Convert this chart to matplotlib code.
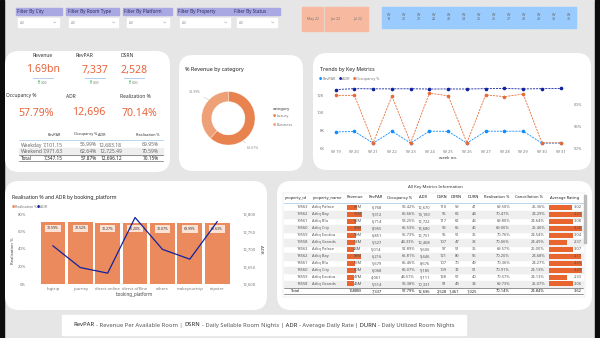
import numpy as np
import matplotlib.pyplot as plt
from matplotlib.patches import FancyBboxPatch, Rectangle

plt.rcParams['font.family'] = ['Noto Sans', 'DejaVu Sans']

W, H = 600, 338
BG = '#e6e6e6'
ORANGE = '#e66c37'
KPI_RED = '#e8643c'
NAVY = '#12239e'
BLUE = '#118dff'
TICK = '#777777'

# ---------------- data ----------------
filters = ['Filter By City', 'Filter By Room Type', 'Filter By Platform',
           'Filter By Property', 'Filter By Status']
months = ['May 22', 'Jun 22', 'Jul 22']
week_nums = [19, 20, 21, 22, 23, 24, 25, 26, 27, 28, 29, 30, 31]

kpi_top = ['Revenue', 'RevPAR', 'DSRN']
kpi_top_val = ['1.69bn', '7,337', '2,528']
kpi_mid = ['Occupancy %', 'ADR', 'Realization %']
kpi_mid_val = ['57.79%', '12,696', '70.14%']

day_cols = ['RevPAR', 'Occupancy %', 'ADR', 'Realisation %']
day_rows = ['Weekday', 'Weekend', 'Total']
day_vals = [['7,101.15', '55.99%', '12,683.18', '69.95%'],
            ['7,971.63', '62.64%', '12,725.49', '70.59%'],
            ['7,347.15', '57.87%', '12,696.12', '70.15%']]

categories = ['Luxury', 'Business']
cat_share = [61.61, 38.39]

weeks = ['W %d' % w for w in week_nums]
revpar_week = [7820, 7880, 6550, 7900, 6550, 7910, 7880, 6550, 7900, 7900, 7910, 6550, 6550]
adr_week = [12620, 12720, 12700, 12700, 12710, 12680, 12690, 12680, 12720, 12740, 12690, 12720, 12750]
occ_week = [62.1, 62.1, 51.2, 61.9, 51.2, 62.6, 62.0, 51.2, 62.2, 61.8, 62.4, 51.2, 51.2]

platforms = ['logtrip', 'journey', 'direct online', 'direct offline', 'others', 'makeyourtrip', 'tripster']
real_platform = [70.59, 70.52, 70.27, 70.20, 70.07, 69.99, 69.63]
adr_platform = [12709, 12647, 12631, 12790, 12699, 12671, 12778]

prop_id = [19563, 19562, 19561, 19560, 19559, 19558, 18563, 18562, 18561, 18560, 18559, 18558]
prop_name = ['Atliq Palace', 'Atliq Bay', 'Atliq Blu', 'Atliq City', 'Atliq Exotica', 'Atliq Grands',
             'Atliq Palace', 'Atliq Bay', 'Atliq Blu', 'Atliq City', 'Atliq Exotica', 'Atliq Grands']
prop_rev = [65, 95, 62, 89, 59, 54, 44, 88, 55, 60, 47, 46]
prop_revpar = ['6,768', '9,312', '6,714', '8,965', '6,851', '5,527', '5,014', '6,216', '5,679', '6,068', '4,061', '5,514']
prop_occ = ['53.42%', '65.66%', '53.25%', '65.53%', '55.73%', '44.33%', '52.89%', '65.81%', '65.46%', '66.07%', '44.57%', '53.38%']
prop_adr = ['12,670', '14,183', '12,722', '13,680', '12,751', '12,468', '9,600', '9,446', '8,676', '9,185', '9,111', '10,331']
prop_dsrn = [110, 96, 117, 99, 95, 107, 97, 121, 107, 109, 128, 91]
prop_dbrn = [59, 63, 62, 65, 51, 47, 51, 80, 70, 72, 57, 49]
prop_durn = [41, 44, 43, 45, 36, 33, 36, 56, 49, 51, 40, 34]
prop_real = ['69.50%', '70.47%', '69.80%', '69.00%', '70.76%', '70.06%', '69.57%', '70.20%', '70.36%', '70.91%', '70.57%', '69.73%']
prop_cancel = ['25.36%', '24.29%', '24.64%', '26.46%', '24.54%', '24.49%', '26.00%', '24.68%', '24.27%', '24.13%', '24.13%', '25.07%']
prop_rating = [3.02, 4.23, 3.08, 4.28, 3.04, 2.37, 3.07, 4.17, 4.25, 4.29, 2.33, 3.06]
total_row = ['1688M', '7,337', '57.79%', '12,696', '2,528', '1,461', '1,025', '70.14%', '24.84%', '3.62']

footer = [('RevPAR', 'bold'), ('- Revenue Per Available Room |', 'normal'),
          ('DSRN', 'bold'), ('- Daily Sellable Room Nights', 'normal'),
          ('| ADR', 'bold'), ('- Average Daily Rate', 'normal'),
          ('| DURN', 'bold'), ('- Daily Utilized Room Nights', 'normal')]

# ---------------- canvas ----------------
fig = plt.figure(figsize=(6, 3.38), dpi=100, facecolor=BG)
bg = fig.add_axes([0, 0, 1, 1])
bg.set_xlim(0, W)
bg.set_ylim(H, 0)
bg.axis('off')


def px_axes(x0, y0, x1, y1):
    a = fig.add_axes([x0 / W, 1 - y1 / H, (x1 - x0) / W, (y1 - y0) / H])
    a.patch.set_alpha(0)
    return a


def card(x0, y0, x1, y1, r=14, fc='white'):
    bg.add_patch(FancyBboxPatch((x0, y0), x1 - x0, y1 - y0,
                                boxstyle='round,pad=0,rounding_size=%s' % r, fc=fc, ec='none'))


def txt(x, y, s, size=3.2, color='#555555', ha='left', weight='normal', **kw):
    return bg.text(x, y, s, fontsize=size, color=color, ha=ha, va='center', fontweight=weight, **kw)


def clean(a):
    for s in a.spines.values():
        s.set_visible(False)
    a.tick_params(length=0, labelsize=3, colors=TICK, pad=1.5)


bg.add_patch(Rectangle((0, 0), 4, H, color='#0d0d0d'))
bg.add_patch(Rectangle((595, 0), 5, H, color='#0d0d0d'))

# filters
fbox = [(15.7, 62.3), (66, 119), (123, 171.7), (177, 232), (233, 280)]
dbox = [(18, 59), (69, 118), (127, 169), (180, 230), (237, 277)]
for name, (a, b), (c, d) in zip(filters, fbox, dbox):
    bg.add_patch(Rectangle((a, 8.3), b - a, 6.9, color='#a9a8e2'))
    txt(a + 1.5, 11.8, name, size=3.3, color='#2b2b5e', weight='bold')
    bg.add_patch(Rectangle((c, 18.3), d - c, 8.4, color='white'))
    txt(c + 2, 22.6, 'All', size=2.6, color='#999999')
    bg.plot([d - 5.5, d - 4.3, d - 3.1], [21.9, 23.1, 21.9], color='#999999', lw=0.3)

# month / week slicers
for i, m in enumerate(months):
    x0 = 302.3 + i * 22.4
    bg.add_patch(Rectangle((x0, 6.7), 21, 24, color='#f7b9a0'))
    txt(x0 + 10.5, 18.7, m, size=2.6, color='#777777', ha='center')
for i, w in enumerate(week_nums):
    x0 = 382 + i * 15
    bg.add_patch(Rectangle((x0, 6.7), 14.0, 21.6, color='#99cbff'))
    txt(x0 + 7.0, 14.5, 'W', size=2.6, color='#666666', ha='center')
    txt(x0 + 7.0, 19.5, str(w), size=2.6, color='#666666', ha='center')

# cards
card(5, 51, 170, 172)
card(179, 55, 303, 171)
card(313, 53, 591, 170)
card(5, 181, 267, 310)
card(277, 181, 592, 310)
bg.add_patch(Rectangle((62, 315), 404, 20, color='white'))

# ---------------- KPI card ----------------
for lab, val, xl, xv in zip(kpi_top, kpi_top_val, [43, 84, 127], [43, 95, 134]):
    txt(xl, 55.5, lab, size=3.6, color='#333333', ha='center', weight='bold')
    txt(xv, 70, val, size=7.6, color=KPI_RED, ha='center')
    bg.plot([xv - 10, xv + 10], [78.3, 78.3], color='#a7c7e7', lw=0.6)
    txt(xv - 5, 82.8, '\u2191', size=3.4, color='#1aab40', ha='center', weight='bold')
    txt(xv - 2.5, 82.8, '0.00', size=2.5, color='#888888')

for lab, val, xl, xv in zip(kpi_mid, kpi_mid_val, [6, 66, 120], [36, 89, 139]):
    txt(xl, 96, lab, size=3.5, color='#333333', weight='bold')
    txt(xv, 113, val, size=7.6, color=KPI_RED, ha='center')

bg.add_patch(Rectangle((19, 148.3), 144, 6.3, color='#eeeeee'))
hx = [(61, 'right'), (97, 'right'), (98, 'left'), (160, 'right')]
for c, (x, ha) in zip(day_cols, hx):
    txt(x, 134.5, c, size=2.7, color='#333333', ha=ha, weight='bold')
bg.plot([19, 163], [140, 140], color='#9cc3e6', lw=0.5)
bg.plot([19, 163], [155, 155], color='#444444', lw=0.4)
bg.plot([19, 163], [161.3, 161.3], color='#444444', lw=0.4)
vx = [63, 97, 122, 159]
for r, (rname, vals) in enumerate(zip(day_rows, day_vals)):
    y = [145, 151.5, 158.2][r]
    wgt = 'bold' if rname == 'Total' else 'normal'
    col = '#222222' if rname == 'Total' else '#666666'
    sz = 3.4 if rname == 'Total' else 3.6
    txt(20.5, y, rname, size=sz, color=col, weight=wgt)
    for v, x in zip(vals, vx):
        txt(x, y, v, size=sz, color=col, ha='right', weight=wgt)

# ---------------- donut ----------------
txt(185, 70, '% Revenue by category', size=3.9, color='#222222', weight='bold')
dx = px_axes(228.3 - 30, 118.3 - 30, 228.3 + 30, 118.3 + 30)
cat_colors = ['#e8834f', '#eea077']
wedges, _ = dx.pie(cat_share, colors=cat_colors, startangle=90, counterclock=False, radius=1,
                   wedgeprops=dict(width=0.375, edgecolor='white', linewidth=0.2))
dx.set_xlim(-1.123, 1.123)
dx.set_ylim(-1.123, 1.123)
label_pos = [(0.70, -1.10), (-1.02, 0.97)]
for share, p in zip(cat_share, label_pos):
    p = np.array(p)
    edge = p / np.hypot(*p)
    dx.annotate('%.2f%%' % share, xy=edge, xytext=p, fontsize=2.6, color='#888888',
                ha='left' if p[0] > 0 else 'right', va='center',
                arrowprops=dict(arrowstyle='-', color='#bbbbbb', lw=0.3, shrinkA=0, shrinkB=0))
txt(272.7, 109.3, 'category', size=3, color='#333333', weight='bold')
for i, (c, col) in enumerate(zip(categories, cat_colors)):
    y = 116 + i * 9
    txt(272.7, y, '\u25cf', size=2.6, color=col)
    txt(276.5, y, c, size=2.8, color='#777777')

# ---------------- trends ----------------
txt(320, 69, 'Trends by Key Metrics', size=3.8, color='#222222', weight='bold')
for lx, lab, col in [(319, 'RevPAR', BLUE), (338.5, 'ADR', NAVY), (352.5, 'Occupancy %', ORANGE)]:
    txt(lx, 79, '\u25cf', size=2.6, color=col)
    txt(lx + 3.2, 79, lab, size=2.7, color='#777777')

ax = px_axes(326.3, 86.2, 570, 148)
xw = np.arange(len(weeks))
ax.plot(xw, adr_week, color=NAVY, ls='--', lw=0.6, marker='o', ms=1.6, dashes=(2.5, 1.2))
ax.plot(xw, revpar_week, color=BLUE, ls='--', lw=0.6, marker='o', ms=1.6, dashes=(2.5, 1.2))
ax.set_xlim(-0.5, 12.5)
ax.set_ylim(6000, 13000)
ax.set_yticks([6000, 8000, 10000, 12000])
ax.set_yticklabels(['6K', '8K', '10K', '12K'])
ax.set_xticks(xw)
ax.set_xticklabels(weeks)
clean(ax)
ax2 = ax.twinx()
ax2.patch.set_alpha(0)
ax2.plot(xw, occ_week, color=ORANGE, ls='--', lw=0.6, marker='o', ms=1.6, dashes=(2.5, 1.2))
ax2.set_ylim(50, 64.2)
ax2.set_yticks([50, 55, 60])
ax2.set_yticklabels(['50%', '55%', '60%'])
clean(ax2)
ax2.tick_params(pad=3)
txt(448, 157.7, 'week no.', size=3.1, color='#333333', ha='center', weight='bold')

# ---------------- realisation / ADR by platform ----------------
txt(11.7, 197.7, 'Realisation % and ADR by booking_platform', size=3.7, color='#222222', weight='bold')
txt(12, 206.7, '\u25cf', size=2.6, color='#eb8a5c')
txt(15.2, 206.7, 'Realisation %', size=2.6, color='#777777')
txt(36.5, 206.7, '\u25cf', size=2.6, color=NAVY)
txt(39.7, 206.7, 'ADR', size=2.6, color='#777777')

bx = px_axes(28, 214, 241, 284)
xb = np.arange(len(platforms))
bx.bar(xb, real_platform, width=0.9, color='#eb8a5c')
bx.set_xlim(-0.91, 6.87)
bx.set_ylim(0, 80)
bx.set_yticks([0, 20, 40, 60, 80])
bx.set_yticklabels(['0%', '20%', '40%', '60%', '80%'])
bx.set_xticks(xb)
bx.set_xticklabels(platforms)
clean(bx)
bx.tick_params(axis='x', pad=2.5)
for xi, v in zip(xb, real_platform):
    bx.annotate('%.2f%%' % v, (xi, v), xytext=(0, -4.4), textcoords='offset points',
                ha='center', va='center', fontsize=2.6, color='#333333',
                bbox=dict(boxstyle='square,pad=0.5', fc='#fbe2d5', ec='none'))
bx2 = bx.twinx()
bx2.patch.set_alpha(0)
bx2.plot(xb, adr_platform, color=NAVY, lw=0.9)
bx2.set_ylim(12600, 12800)
bx2.set_yticks([12600, 12650, 12700, 12750, 12800])
bx2.set_yticklabels(['12,600', '12,650', '12,700', '12,750', '12,800'])
clean(bx2)
txt(13.3, 251, 'Realisation %', size=3.1, color='#444444', ha='center', rotation=90)
txt(260.5, 249, 'ADR', size=3.1, color='#444444', ha='center', rotation=-90)
txt(134, 294.5, 'booking_platform', size=3.2, color='#444444', ha='center')

# ---------------- key metrics table ----------------
txt(435, 186.7, 'All Key Metrics Information', size=3.1, color='#333333', ha='center', weight='bold')
bg.add_patch(Rectangle((283, 193), 302, 104, fc='white', ec='#dddddd', lw=0.3))
row_y = 207.3 + np.arange(len(prop_id)) * 6.97
for i, y in enumerate(row_y):
    if i % 2 == 1:
        bg.add_patch(Rectangle((284, y - 3.45), 299, 6.9, color='#efefef'))

headers = [('property_id', 285), ('property_name', 312.3), ('Revenue', 346.7), ('RevPAR', 368.3),
           ('Occupancy %', 387.3), ('ADR', 418.7), ('DSRN', 436.7), ('DBRN', 450.7), ('DURN', 467.3),
           ('Realisation %', 484.3), ('Cancellation %', 515), ('Average Rating', 550)]
for h, x in headers:
    txt(x, 197.5, h, size=2.9, color='#222222', weight='bold')
bg.plot([284, 583], [203.3, 203.3], color='#9cc3e6', lw=0.5)

bar_left, bar_full = 346.7, 15
bg.barh(row_y, np.array(prop_rev) / max(prop_rev) * bar_full, left=bar_left, height=5,
        color='#e8652f')
rate_left, rate_scale = 549.3, 7.66
bg.barh(row_y, np.array(prop_rating) * rate_scale, left=rate_left, height=5, color='#e8652f')

cols = [(prop_id, 308.3, 'right'), (prop_name, 312.3, 'left'),
        (['%dM' % v for v in prop_rev], 361.7, 'right'), (prop_revpar, 381.7, 'right'),
        (prop_occ, 415, 'right'), (prop_adr, 430, 'right'), (prop_dsrn, 446.7, 'right'),
        (prop_dbrn, 459.3, 'right'), (prop_durn, 476.7, 'right'), (prop_real, 510, 'right'),
        (prop_cancel, 545, 'right'), (['%.2f' % v for v in prop_rating], 581.7, 'right')]
for values, x, ha in cols:
    for v, y in zip(values, row_y):
        txt(x, y, str(v), size=2.9, color='#555555', ha=ha)

bg.plot([284, 583], [287.7, 287.7], color='#444444', lw=0.4)
bg.plot([284, 583], [294.3, 294.3], color='#444444', lw=0.4)
txt(290, 291, 'Total', size=2.9, color='#222222', weight='bold')
for v, (_, x, _) in zip(total_row, cols[2:]):
    txt(x, 291, v, size=2.9, color='#222222', ha='right', weight='bold')
bg.add_patch(Rectangle((583.6, 195), 2, 48, color='#bbbbbb'))

# ---------------- footer ----------------
renderer = fig.canvas.get_renderer()
fsize = 4.2
pieces = []
for s, wgt in footer:
    t = txt(0, 325, s, size=fsize, color='#222222' if wgt == 'bold' else '#555555', weight=wgt)
    pieces.append((t, t.get_window_extent(renderer).width))
gap = 0.28 * fsize * 100 / 72
total_w = sum(w for _, w in pieces) + gap * (len(pieces) - 1)
x = 264 - total_w / 2
for t, w in pieces:
    t.set_x(x)
    x += w + gap

fig.savefig('out.png', dpi=100, facecolor=BG)
